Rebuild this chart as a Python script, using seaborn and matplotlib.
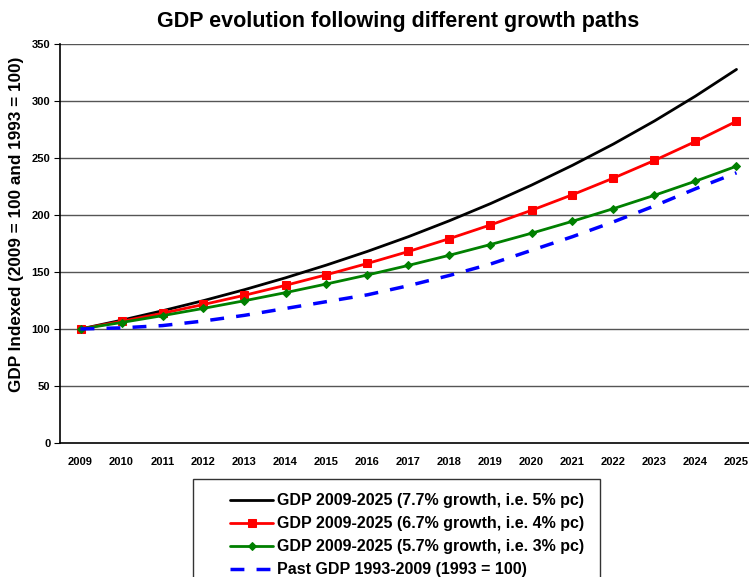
import matplotlib
matplotlib.use("Agg")
import matplotlib.pyplot as plt
import seaborn as sns
from matplotlib.patches import Rectangle

years = [str(y) for y in range(2009, 2026)]
gdp_77 = [100, 107.7, 116.0, 124.9, 134.5, 144.9, 156.1, 168.1, 181.0,
          195.0, 210.0, 226.2, 243.6, 262.3, 282.5, 304.3, 327.7]
gdp_67 = [100, 106.7, 113.8, 121.5, 129.6, 138.3, 147.6, 157.5, 168.0,
          179.3, 191.3, 204.1, 217.8, 232.4, 247.9, 264.5, 282.2]
gdp_57 = [100, 105.7, 111.7, 118.1, 124.8, 131.9, 139.5, 147.4, 155.8,
          164.7, 174.1, 184.0, 194.5, 205.6, 217.3, 229.7, 242.8]
gdp_past = [100, 101, 103, 107, 112, 118, 124, 130, 138,
            147, 157, 169, 181, 194, 208, 223, 237]

labels = ["GDP 2009-2025 (7.7% growth, i.e. 5% pc)",
          "GDP 2009-2025 (6.7% growth, i.e. 4% pc)",
          "GDP 2009-2025 (5.7% growth, i.e. 3% pc)",
          "Past GDP 1993-2009 (1993 = 100)"]

sns.set_style("white")
plt.rcParams['font.family'] = ['Liberation Sans', 'DejaVu Sans']
plt.rcParams['text.color'] = 'black'
plt.rcParams['xtick.color'] = 'black'
plt.rcParams['ytick.color'] = 'black'

fig = plt.figure(figsize=(7.49, 5.77), dpi=100)
ax = fig.add_axes([60 / 749, 134 / 577, 697 / 749, 399 / 577])

x = list(range(len(years)))
sns.lineplot(x=x, y=gdp_77, ax=ax, color="black", linewidth=2, label=labels[0])
sns.lineplot(x=x, y=gdp_67, ax=ax, color="red", linewidth=2, marker="s",
             markersize=5.5, markeredgecolor="red", label=labels[1])
sns.lineplot(x=x, y=gdp_57, ax=ax, color="green", linewidth=2, marker="D",
             markersize=4.5, markeredgecolor="green", label=labels[2])
sns.lineplot(x=x, y=gdp_past, ax=ax, color="blue", linewidth=2.5,
             dashes=(4, 3.5), label=labels[3])

ax.set_xlim(-0.5, len(years) - 0.5)
ax.set_ylim(0, 350)
ax.set_yticks(range(0, 351, 50))
ax.set_yticklabels([str(v) for v in range(0, 351, 50)], fontsize=8, fontweight="bold")
ax.set_xticks(x)
ax.set_xticklabels(years, fontsize=8, fontweight="bold")
ax.set_xticks([i - 0.5 for i in range(len(years) + 1)], minor=True)
ax.tick_params(axis="x", which="major", length=0, pad=10)
ax.tick_params(axis="x", which="minor", length=4, direction="out", color="black")
ax.tick_params(axis="y", length=4, direction="out", color="black", pad=3, left=True)

for v in range(50, 351, 50):
    ax.axhline(v, color="#555555", linewidth=1, zorder=0)

for s in ["top", "right"]:
    ax.spines[s].set_visible(False)
for s in ["left", "bottom"]:
    ax.spines[s].set_color("black")
    ax.spines[s].set_linewidth(1.2)

fig.text(17 / 749, 1 - 224 / 577, "GDP Indexed (2009 = 100 and 1993 = 100)",
         rotation=90, ha="center", va="center", fontsize=12.3, fontweight="bold")
fig.text(398 / 749, 1 - 22 / 577, "GDP evolution following different growth paths",
         ha="center", va="center", fontsize=15.5, fontweight="bold")

handles, lbls = ax.get_legend_handles_labels()
ax.legend_.remove()
leg = fig.legend(handles, lbls, loc="upper left",
                 bbox_to_anchor=(216 / 749, 1 - 479 / 577),
                 frameon=False, prop={"size": 11.5, "weight": "bold"},
                 handlelength=2.65, handletextpad=0.25, labelspacing=0.5)
fig.patches.append(Rectangle((193 / 749, -0.02), 407 / 749, 0.02 + 98 / 577,
                             transform=fig.transFigure, fill=False,
                             edgecolor="#333333", linewidth=1))

fig.savefig("out.png", dpi=100)
